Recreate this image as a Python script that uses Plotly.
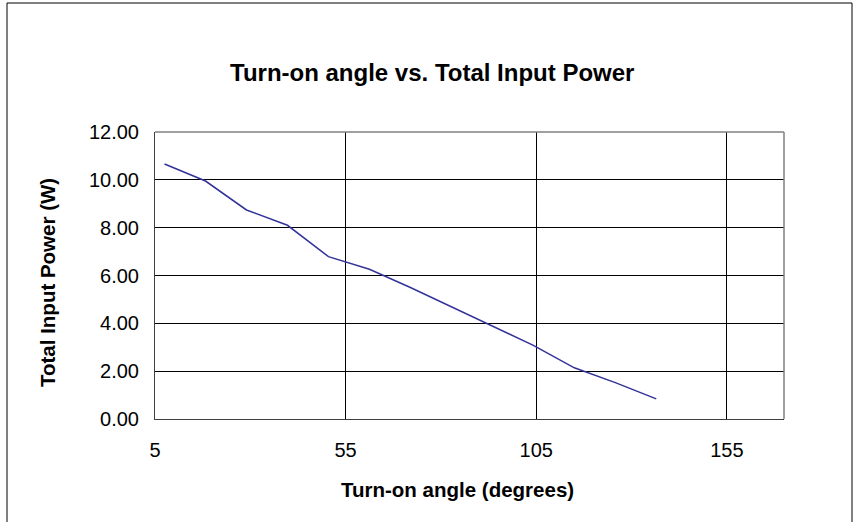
import plotly.graph_objects as go

turn_on_angle = [7.5, 18.25, 29.0, 39.75, 50.5, 61.25, 72.0, 82.75, 93.5, 104.25, 115.0, 125.75, 136.5]
total_input_power = [10.66, 9.95, 8.74, 8.10, 6.79, 6.26, 5.50, 4.70, 3.88, 3.08, 2.14, 1.52, 0.84]

title_text = "Turn-on angle vs. Total Input Power"
x_title = "Turn-on angle (degrees)"
y_title = "Total Input Power (W)"

FONT = "Liberation Sans, Arial, sans-serif"

fig = go.Figure()
fig.add_trace(go.Scatter(
    x=turn_on_angle, y=total_input_power, mode="lines",
    line=dict(color="#333399", width=1.5), showlegend=False,
))

L, R, T, B = 155, 74, 132, 103
W, H = 858, 522
pw, ph = W - L - R, H - T - B

def px2paper_x(px):
    return (px - L) / pw

def px2paper_y(py):
    return (H - B - py) / ph

fig.update_layout(
    width=W, height=H,
    margin=dict(l=L, r=R, t=T, b=B),
    paper_bgcolor="white", plot_bgcolor="white",
    font=dict(family=FONT, color="black", size=20),
    xaxis=dict(
        range=[5, 170], tick0=5, dtick=50, tickmode="linear",
        showgrid=True, gridcolor="black", gridwidth=1,
        showline=True, linecolor="#404040", linewidth=1,
        zeroline=False, ticks="", ticklabelstandoff=13,
        tickfont=dict(size=20),
    ),
    yaxis=dict(
        range=[0, 12], tick0=0, dtick=2, tickmode="linear", tickformat=".2f",
        showgrid=True, gridcolor="black", gridwidth=1,
        showline=True, linecolor="#404040", linewidth=1,
        zeroline=False, ticks="", ticklabelstandoff=11,
        tickfont=dict(size=20),
    ),
)

# chart title and axis titles
fig.add_annotation(text="<b>" + title_text + "</b>", xref="paper", yref="paper",
                   x=px2paper_x(432), y=px2paper_y(73), xanchor="center", yanchor="middle",
                   showarrow=False, font=dict(size=24, family=FONT))
fig.add_annotation(text="<b>" + x_title + "</b>", xref="paper", yref="paper",
                   x=px2paper_x(457), y=px2paper_y(489), xanchor="center", yanchor="middle",
                   showarrow=False, font=dict(size=20.5, family=FONT))
fig.add_annotation(text="<b>" + y_title + "</b>", xref="paper", yref="paper",
                   x=px2paper_x(47), y=px2paper_y(283), xanchor="center", yanchor="middle",
                   textangle=-90, showarrow=False, font=dict(size=20.5, family=FONT))

# plot area border (gray, top and right)
fig.add_shape(type="line", xref="paper", yref="paper", x0=0, x1=1, y0=1, y1=1,
              line=dict(color="#808080", width=1.5), layer="above")
fig.add_shape(type="line", xref="paper", yref="paper", x0=1, x1=1, y0=0, y1=1,
              line=dict(color="#808080", width=1.5), layer="above")

# outer chart border
fig.add_shape(type="rect", xref="paper", yref="paper",
              x0=px2paper_x(7), x1=px2paper_x(852),
              y0=px2paper_y(530), y1=px2paper_y(3),
              line=dict(color="black", width=1), fillcolor="rgba(0,0,0,0)", layer="below")

fig.write_html("out.html", config={"displayModeBar": False},
               post_script="document.body.style.margin='0px';")
